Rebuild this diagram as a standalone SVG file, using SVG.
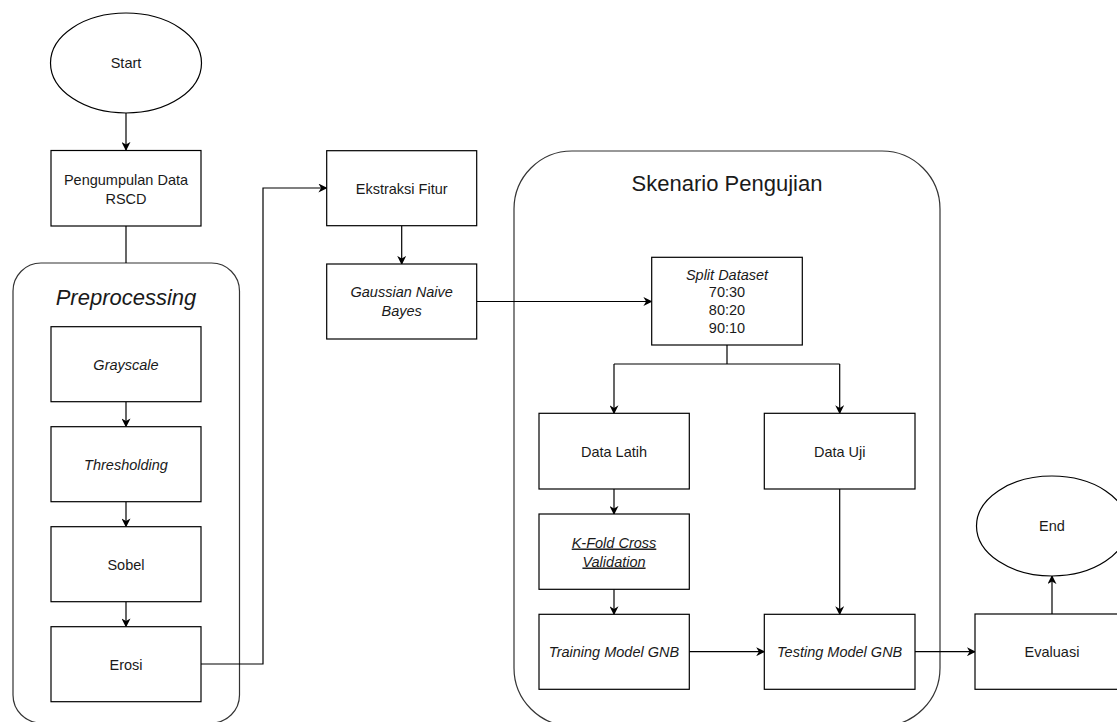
<svg xmlns="http://www.w3.org/2000/svg" width="1117" height="722" viewBox="0 0 1117 722">
<defs>
<style>
.box{fill:#fff;stroke:#000;stroke-width:1.2}
.cont{fill:none;stroke:#333;stroke-width:1.2}
.t{font-family:"Liberation Sans",Arial,sans-serif;font-size:14.5px;fill:#1a1a1a;text-anchor:middle}
.i{font-style:italic}
.big{font-size:22px}
.c{fill:none;stroke:#000;stroke-width:1.2}
</style>
<marker id="ah" viewBox="0 0 10 10" refX="9" refY="5" markerWidth="9" markerHeight="9" markerUnits="userSpaceOnUse" orient="auto">
<path d="M0,0 L10,5 L0,10 L3,5 Z" fill="#000"/>
</marker>
</defs>
<rect width="1117" height="722" fill="#fff"/>

<g id="preprocessing-container">
<rect class="cont" x="13" y="263" width="226.5" height="460" rx="28" ry="28"/>
<text class="t i big" x="126" y="304.5">Preprocessing</text>
</g>
<g id="skenario-container">
<rect class="cont" x="514" y="151" width="426" height="575" rx="58" ry="58"/>
<text class="t big" x="727" y="191">Skenario Pengujian</text>
</g>

<g id="connectors">
<path class="c" d="M126,113 V150" marker-end="url(#ah)"/>
<path class="c" d="M126,226 V263"/>
<path class="c" d="M126,402 V426.5" marker-end="url(#ah)"/>
<path class="c" d="M126,502 V526.5" marker-end="url(#ah)"/>
<path class="c" d="M126,602 V626.5" marker-end="url(#ah)"/>
<path class="c" d="M201,664 H263 V188 H326.5" marker-end="url(#ah)"/>
<path class="c" d="M401.7,226 V264" marker-end="url(#ah)"/>
<path class="c" d="M476.7,301.5 H651.5" marker-end="url(#ah)"/>
<path class="c" d="M727,345 V364 M614,364 H839.7"/>
<path class="c" d="M614,364 V413.3" marker-end="url(#ah)"/>
<path class="c" d="M839.7,364 V413.3" marker-end="url(#ah)"/>
<path class="c" d="M614,489 V514" marker-end="url(#ah)"/>
<path class="c" d="M614,589.3 V614.3" marker-end="url(#ah)"/>
<path class="c" d="M839.7,489 V614.3" marker-end="url(#ah)"/>
<path class="c" d="M689.3,651.7 H764.3" marker-end="url(#ah)"/>
<path class="c" d="M915,651.7 H975" marker-end="url(#ah)"/>
<path class="c" d="M1052,614 V576" marker-end="url(#ah)"/>
</g>

<g id="start">
<ellipse class="box" cx="126" cy="63" rx="75.5" ry="50"/>
<text class="t" x="126" y="68">Start</text>
</g>
<g id="pengumpulan">
<rect class="box" x="51" y="150.5" width="150" height="75.5"/>
<text class="t" x="126" y="185">Pengumpulan Data</text>
<text class="t" x="126" y="204">RSCD</text>
</g>
<g id="grayscale">
<rect class="box" x="51" y="326.7" width="150" height="75"/>
<text class="t i" x="126" y="369.5">Grayscale</text>
</g>
<g id="thresholding">
<rect class="box" x="51" y="426.7" width="150" height="75"/>
<text class="t i" x="126" y="469.5">Thresholding</text>
</g>
<g id="sobel">
<rect class="box" x="51" y="526.7" width="150" height="75"/>
<text class="t" x="126" y="569.5">Sobel</text>
</g>
<g id="erosi">
<rect class="box" x="51" y="626.7" width="150" height="75"/>
<text class="t" x="126" y="669.5">Erosi</text>
</g>
<g id="ekstraksi">
<rect class="box" x="326.7" y="150.7" width="150" height="75"/>
<text class="t" x="401.7" y="193.5">Ekstraksi Fitur</text>
</g>
<g id="gaussian">
<rect class="box" x="326.7" y="264" width="150" height="75"/>
<text class="t i" x="401.7" y="297">Gaussian Naive</text>
<text class="t i" x="401.7" y="316">Bayes</text>
</g>
<g id="split">
<rect class="box" x="651.7" y="257.3" width="150.6" height="87.7"/>
<text class="t i" x="727" y="279.5">Split Dataset</text>
<text class="t" x="727" y="297">70:30</text>
<text class="t" x="727" y="315">80:20</text>
<text class="t" x="727" y="333">90:10</text>
</g>
<g id="data-latih">
<rect class="box" x="539" y="413.3" width="150.3" height="75.7"/>
<text class="t" x="614" y="456.5">Data Latih</text>
</g>
<g id="data-uji">
<rect class="box" x="764.3" y="413.3" width="150.7" height="75.7"/>
<text class="t" x="839.7" y="456.5">Data Uji</text>
</g>
<g id="kfold">
<rect class="box" x="539" y="514" width="150.3" height="75.3"/>
<text class="t i" x="614" y="547.5" text-decoration="underline">K-Fold Cross</text>
<text class="t i" x="614" y="566.5" text-decoration="underline">Validation</text>
</g>
<g id="training">
<rect class="box" x="539" y="614.3" width="150.3" height="75"/>
<text class="t i" x="614" y="657">Training Model GNB</text>
</g>
<g id="testing">
<rect class="box" x="764.3" y="614.3" width="150.7" height="75"/>
<text class="t i" x="839.7" y="657">Testing Model GNB</text>
</g>
<g id="evaluasi">
<rect class="box" x="975" y="614" width="150" height="75.3"/>
<text class="t" x="1052" y="657">Evaluasi</text>
</g>
<g id="end">
<ellipse class="box" cx="1052" cy="526" rx="75.5" ry="50"/>
<text class="t" x="1052" y="531">End</text>
</g>
</svg>
